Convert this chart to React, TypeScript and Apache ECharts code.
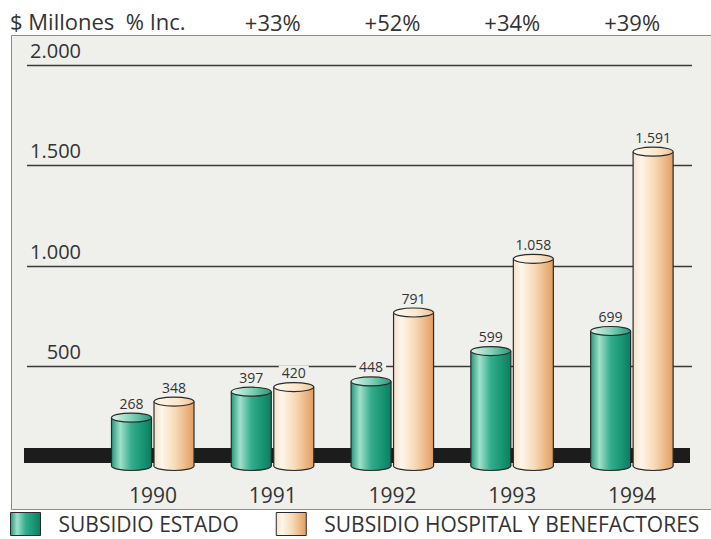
import React, { useEffect, useRef } from "react";
import * as echarts from "echarts";

const years = ["1990", "1991", "1992", "1993", "1994"];
const subsidioEstado = [268, 397, 448, 599, 699];
const subsidioHospital = [348, 420, 791, 1058, 1591];
const incrementLabels = ["", "+33%", "+52%", "+34%", "+39%"];
const seriesNames = ["SUBSIDIO ESTADO", "SUBSIDIO HOSPITAL Y BENEFACTORES"];

const FONT = '"Open Sans", "DejaVu Sans", sans-serif';
const BOX_BG = "#efefeb";
const STROKE = "#2a2a2a";

function fmt(v: number): string {
  if (v >= 1000) {
    return Math.floor(v / 1000) + "." + String(v % 1000).padStart(3, "0");
  }
  return String(v);
}

function greenBody() {
  return new echarts.graphic.LinearGradient(0, 0, 1, 0, [
    { offset: 0, color: "#239a7b" },
    { offset: 0.22, color: "#a2e0cb" },
    { offset: 0.5, color: "#33ad8c" },
    { offset: 0.85, color: "#128f6d" },
    { offset: 1, color: "#0f7c5e" },
  ]);
}
function greenTop() {
  return new echarts.graphic.LinearGradient(0, 0, 1, 0, [
    { offset: 0, color: "#dff5ed" },
    { offset: 0.45, color: "#8fd6be" },
    { offset: 1, color: "#229a79" },
  ]);
}
function beigeBody() {
  return new echarts.graphic.LinearGradient(0, 0, 1, 0, [
    { offset: 0, color: "#f4e2c9" },
    { offset: 0.2, color: "#fdf6ea" },
    { offset: 0.55, color: "#f6d8b4" },
    { offset: 0.9, color: "#e8aa72" },
    { offset: 1, color: "#df9f68" },
  ]);
}
function beigeTop() {
  return new echarts.graphic.LinearGradient(0, 0, 1, 0, [
    { offset: 0, color: "#fefaf2" },
    { offset: 0.6, color: "#f9e6cc" },
    { offset: 1, color: "#efc597" },
  ]);
}

function cylinderRenderer(offset: number, body: () => any, top: () => any) {
  return (params: any, api: any) => {
    const xi = api.value(0);
    const v = api.value(1);
    const pTop = api.coord([xi, v]);
    const p0 = api.coord([xi, 0]);
    const cx = pTop[0] + offset;
    const rx = 20;
    const ry = 4.5;
    const yb = p0[1] - 1;
    const yt = pTop[1] + ry;
    return {
      type: "group",
      children: [
        {
          type: "ellipse",
          shape: { cx, cy: yb, rx, ry },
          style: { fill: body(), stroke: STROKE, lineWidth: 1.2 },
        },
        {
          type: "rect",
          shape: { x: cx - rx, y: yt, width: rx * 2, height: yb - yt },
          style: { fill: body() },
        },
        {
          type: "line",
          shape: { x1: cx - rx, y1: yt, x2: cx - rx, y2: yb },
          style: { stroke: STROKE, lineWidth: 1.2 },
        },
        {
          type: "line",
          shape: { x1: cx + rx, y1: yt, x2: cx + rx, y2: yb },
          style: { stroke: STROKE, lineWidth: 1.2 },
        },
        {
          type: "ellipse",
          shape: { cx, cy: yt, rx, ry },
          style: { fill: top(), stroke: STROKE, lineWidth: 1.2 },
        },
        {
          type: "text",
          style: {
            text: fmt(v),
            x: cx,
            y: pTop[1] - 3,
            textAlign: "center",
            textVerticalAlign: "bottom",
            fill: "#333",
            fontSize: 14,
            fontFamily: FONT,
            backgroundColor: BOX_BG,
            padding: [0, 3],
          },
        },
      ],
    };
  };
}

export default function App() {
  const ref = useRef<HTMLDivElement>(null);

  useEffect(() => {
    if (!ref.current) return;
    const chart = echarts.init(ref.current, null, { renderer: "svg" });

    const estadoData = subsidioEstado.map((v, i) => [i, v]);
    const hospitalData = subsidioHospital.map((v, i) => [i, v]);
    const labelData = years.map((_, i) => [i, 0]);

    chart.setOption({
      animation: false,
      backgroundColor: "#ffffff",
      title: {
        text: "$ Millones\u00a0\u00a0% Inc.",
        left: 10,
        top: 10,
        padding: 0,
        textStyle: {
          fontSize: 22,
          fontWeight: "normal",
          color: "#333",
          fontFamily: FONT,
        },
      },
      graphic: [
        {
          type: "rect",
          z: -10,
          shape: { x: 11.5, y: 35.5, width: 760, height: 474 },
          style: { fill: BOX_BG, stroke: "#8c8c8c", lineWidth: 1 },
        },
        {
          type: "rect",
          z: 1,
          shape: { x: 24, y: 448, width: 666, height: 15 },
          style: { fill: "#1c1c1c" },
        },
      ],
      legend: {
        left: 10,
        top: 512,
        width: 900,
        padding: 0,
        itemWidth: 30,
        itemHeight: 23,
        itemGap: 37,
        icon: "rect",
        selectedMode: false,
        textStyle: {
          fontSize: 21,
          color: "#333",
          fontFamily: FONT,
          padding: [0, 0, 0, 13],
        },
        data: [
          {
            name: seriesNames[0],
            itemStyle: { color: greenBody(), borderColor: STROKE, borderWidth: 1 },
          },
          {
            name: seriesNames[1],
            itemStyle: { color: beigeBody(), borderColor: STROKE, borderWidth: 1 },
          },
        ],
      },
      grid: { left: 27, right: 19, top: 65, height: 402, containLabel: false },
      xAxis: {
        type: "value",
        min: -1.052,
        max: 4.5,
        show: false,
      },
      yAxis: {
        type: "value",
        min: 0,
        max: 2000,
        interval: 500,
        axisLine: { show: false },
        axisTick: { show: false },
        splitLine: {
          show: true,
          showMinLine: false,
          lineStyle: { color: "#3a3a3a", width: 1.3 },
        },
        axisLabel: {
          inside: true,
          align: "right",
          margin: 54,
          verticalAlign: "bottom",
          lineHeight: 30,
          fontSize: 20,
          color: "#333",
          fontFamily: FONT,
          formatter: (v: number) => (v === 0 ? "" : fmt(v)),
        },
      },
      series: [
        {
          name: seriesNames[0],
          type: "custom",
          z: 2,
          itemStyle: { color: "#2aa080" },
          renderItem: cylinderRenderer(-21.5, greenBody, greenTop),
          data: estadoData,
        },
        {
          name: seriesNames[1],
          type: "custom",
          z: 2,
          itemStyle: { color: "#f2c89a" },
          renderItem: cylinderRenderer(21, beigeBody, beigeTop),
          data: hospitalData,
        },
        {
          name: "labels",
          type: "custom",
          z: 3,
          silent: true,
          renderItem: (params: any, api: any) => {
            const i = api.value(0);
            const p0 = api.coord([i, 0]);
            const pMax = api.coord([i, 2000]);
            const children: any[] = [
              {
                type: "text",
                style: {
                  text: years[i],
                  x: p0[0],
                  y: p0[1] + 28,
                  textAlign: "center",
                  textVerticalAlign: "middle",
                  fill: "#333",
                  fontSize: 21,
                  fontFamily: FONT,
                },
              },
            ];
            if (incrementLabels[i]) {
              children.push({
                type: "text",
                style: {
                  text: incrementLabels[i],
                  x: p0[0],
                  y: pMax[1] - 43,
                  textAlign: "center",
                  textVerticalAlign: "middle",
                  fill: "#333",
                  fontSize: 22,
                  fontFamily: FONT,
                },
              });
            }
            return { type: "group", children };
          },
          data: labelData,
        },
      ],
    });

    return () => chart.dispose();
  }, []);

  return (
    <div
      ref={ref}
      style={{ position: "absolute", left: 0, top: 0, width: 711, height: 539 }}
    />
  );
}
